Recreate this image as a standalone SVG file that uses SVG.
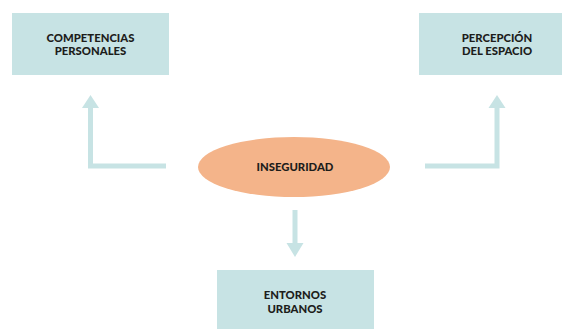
<svg xmlns="http://www.w3.org/2000/svg" width="562" height="329" viewBox="0 0 562 329">
<style>
.box{fill:#c7e3e4}
.t{font-family:Lato,"Noto Sans",sans-serif;font-weight:900;font-size:11.3px;fill:#1d1d1b;text-anchor:middle}
.ln{stroke:#c7e3e4;stroke-width:5;fill:none}
.hd{fill:#c7e3e4}
</style>
<rect width="562" height="329" fill="#ffffff"/>
<g id="connectors">
<polyline class="ln" points="166,166 90.5,166 90.5,106"/>
<polygon class="hd" points="90.5,95 99,108 82,108"/>
<polyline class="ln" points="425,166 497,166 497,106"/>
<polygon class="hd" points="497,95 505.5,108 488.5,108"/>
<line class="ln" x1="295" y1="210" x2="295" y2="245"/>
<polygon class="hd" points="295,257 303.5,243 286.5,243"/>
</g>
<g id="competencias">
<rect class="box" x="12" y="13" width="157" height="62"/>
<text class="t" x="90.5" y="42">COMPETENCIAS</text>
<text class="t" x="90.5" y="55">PERSONALES</text>
</g>
<g id="percepcion">
<rect class="box" x="419" y="13" width="143" height="62"/>
<text class="t" x="497" y="42">PERCEPCIÓN</text>
<text class="t" x="497" y="55">DEL ESPACIO</text>
</g>
<g id="inseguridad">
<ellipse cx="294" cy="167" rx="96" ry="30" fill="#f4b48a"/>
<text class="t" x="295" y="170.5">INSEGURIDAD</text>
</g>
<g id="entornos">
<rect class="box" x="217" y="270" width="157" height="59"/>
<text class="t" x="295" y="299">ENTORNOS</text>
<text class="t" x="295" y="313">URBANOS</text>
</g>
</svg>
